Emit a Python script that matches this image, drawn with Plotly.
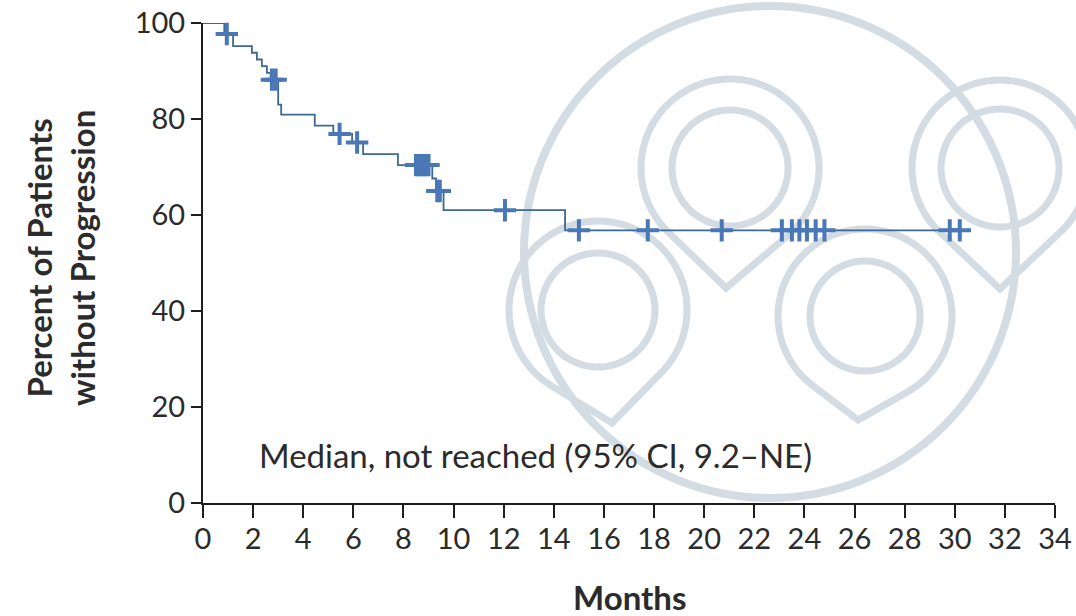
import numpy as np
import plotly.graph_objects as go

# Kaplan-Meier estimate: event times (months) and survival (%) after each step
step_months = [0, 0.85, 1.2, 1.95, 2.15, 2.35, 2.55, 2.7, 3.0, 3.12, 4.46,
               5.2, 5.95, 6.39, 7.78, 9.15, 9.3, 9.6, 14.45]
step_percent = [100, 97.7, 95.2, 93.8, 92.4, 91.0, 89.6, 88.2, 83.0, 80.9, 78.6,
                76.9, 75.1, 72.7, 70.4, 67.6, 65.0, 61.0, 56.8]
last_followup = 30.6

# Censored observations (months)
censor_months = [0.95, 2.75, 2.9, 5.45, 6.15, 8.5, 8.6, 8.7, 8.8, 8.9, 9.0,
                 9.35, 9.45, 12.05, 15.0, 17.75, 20.7, 23.1, 23.5, 23.8, 24.1,
                 24.45, 24.8, 29.8, 30.2]

x_ticks = list(range(0, 35, 2))
y_ticks = [0, 20, 40, 60, 80, 100]
median_text = "Median, not reached (95% CI, 9.2\u2013NE)"


def surv_at(t):
    idx = np.searchsorted(step_months, t, side="right") - 1
    return step_percent[idx]


censor_percent = [surv_at(t) for t in censor_months]

W, H = 1076, 616
ML, MR, MT, MB = 203, 21, 23, 113
PW, PH = W - ML - MR, H - MT - MB

FONT = "Lato"
TEXT = "#2b2b2b"
LINE_BLUE = "#3f6890"
MARK_BLUE = "#4a77b6"
WM = "#d3dce3"


def to_paper(px, py):
    return (px - ML) / PW, (H - MB - py) / PH


def path_from(points, close=True):
    parts = []
    for i, (px, py) in enumerate(points):
        x, y = to_paper(px, py)
        parts.append(("M" if i == 0 else "L") + f"{x:.5f},{y:.5f}")
    return " ".join(parts) + (" Z" if close else "")


def ring(cx, cy, r, n=120):
    a = np.linspace(0, 2 * np.pi, n)
    return list(zip(cx + r * np.cos(a), cy + r * np.sin(a)))


def pin(cx, cy, r, tx, ty, n=120):
    # circle of radius r with straight tangents meeting at the tip (tx, ty)
    dx, dy = tx - cx, ty - cy
    d = np.hypot(dx, dy)
    base = np.arctan2(dy, dx)
    th = np.arccos(r / d)
    a = np.linspace(base + th, base + 2 * np.pi - th, n)
    pts = [(tx, ty)] + list(zip(cx + r * np.cos(a), cy + r * np.sin(a)))
    return pts


fig = go.Figure()

# Step curve
fig.add_trace(go.Scatter(
    x=step_months + [last_followup],
    y=step_percent + [step_percent[-1]],
    mode="lines",
    line=dict(color=LINE_BLUE, width=1.8, shape="hv"),
    cliponaxis=False,
    hoverinfo="skip",
    showlegend=False,
))

# Censor marks
fig.add_trace(go.Scatter(
    x=censor_months,
    y=censor_percent,
    mode="markers",
    marker=dict(symbol="cross-thin", size=16,
                line=dict(color=MARK_BLUE, width=4)),
    cliponaxis=False,
    hoverinfo="skip",
    showlegend=False,
))

# Background emblem drawn in light grey outlines
shapes = []
ex0, ey0 = to_paper(524, 6)
ex1, ey1 = to_paper(1016, 498)
shapes.append(dict(type="circle", xref="paper", yref="paper",
                   x0=ex0, y0=ey1, x1=ex1, y1=ey0,
                   line=dict(color=WM, width=8), layer="below"))
emblem_pins = [
    (730, 168, 89, 58, 726, 288),
    (1000, 168, 88, 59, 1000, 289),
    (598, 310, 89, 57, 612, 423),
    (865, 316, 87, 55, 858, 420),
]
for cx, cy, ro, ri, tx, ty in emblem_pins:
    shapes.append(dict(type="path", xref="paper", yref="paper",
                       path=path_from(pin(cx, cy, ro, tx, ty)),
                       line=dict(color=WM, width=7), layer="below"))
    shapes.append(dict(type="path", xref="paper", yref="paper",
                       path=path_from(ring(cx, cy, ri)),
                       line=dict(color=WM, width=7), layer="below"))

annotations = [
    dict(text=median_text, x=2.15, y=10, xref="x", yref="y",
         xanchor="left", yanchor="middle", showarrow=False,
         font=dict(family=FONT, size=33, color=TEXT)),
    dict(text="<b>Months</b>", x=0.5, y=to_paper(0, 597)[1],
         xref="paper", yref="paper", xanchor="center", yanchor="middle",
         showarrow=False, font=dict(family=FONT, size=33, color=TEXT)),
    dict(text="<b>Percent of Patients<br>without Progression</b>",
         x=to_paper(60, 0)[0], y=to_paper(0, 258)[1],
         xref="paper", yref="paper", xanchor="center", yanchor="middle",
         textangle=-90, showarrow=False,
         font=dict(family=FONT, size=33, color=TEXT)),
]

axis_common = dict(showgrid=False, zeroline=False, showline=True,
                   linecolor="#1e1e1e", linewidth=2, automargin=False,
                   ticks="outside", tickwidth=2, tickcolor="#1e1e1e",
                   tickfont=dict(family=FONT, size=29, color=TEXT))

fig.update_layout(
    width=W, height=H, autosize=False,
    margin=dict(l=ML, r=MR, t=MT, b=MB, pad=0, autoexpand=False),
    paper_bgcolor="white", plot_bgcolor="white",
    shapes=shapes, annotations=annotations,
    xaxis=dict(range=[0, 34], tickvals=x_ticks,
               ticktext=[str(v) for v in x_ticks], ticklen=13,
               ticklabelstandoff=-4, **axis_common),
    yaxis=dict(range=[0, 100], tickvals=y_ticks,
               ticktext=[str(v) for v in y_ticks], ticklen=10,
               **axis_common),
)

fig.write_html("out.html")
